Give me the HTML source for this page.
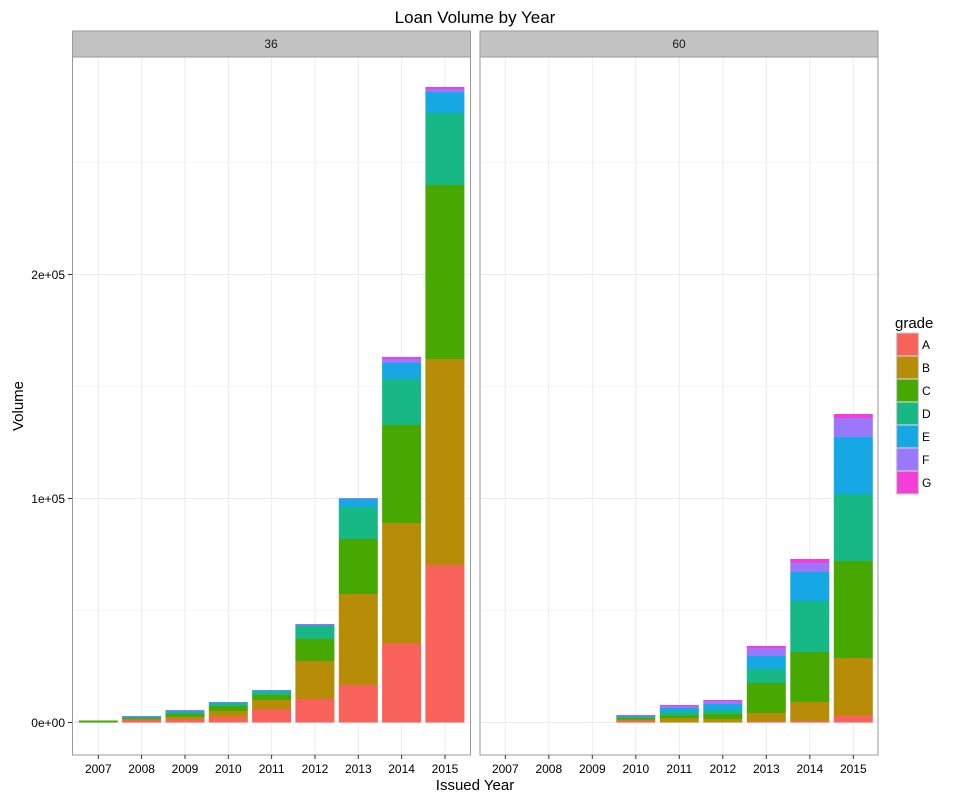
<!DOCTYPE html>
<html><head><meta charset="utf-8"><style>body{margin:0;background:#fff}svg{display:block;font-family:"Liberation Sans",Arial,sans-serif}</style></head><body>
<svg width="962" height="800" viewBox="0 0 962 800" xmlns="http://www.w3.org/2000/svg">
<rect width="962" height="800" fill="#fff"/>
<text x="475" y="23" font-size="17" text-anchor="middle" fill="#000">Loan Volume by Year</text>
<!-- strips -->
<rect x="72.5" y="31" width="398" height="26" fill="#c2c2c2" stroke="#999" stroke-width="1"/>
<rect x="480" y="31" width="398" height="26" fill="#c2c2c2" stroke="#999" stroke-width="1"/>
<text x="271" y="48" font-size="12" text-anchor="middle" fill="#1a1a1a">36</text>
<text x="679" y="48" font-size="12" text-anchor="middle" fill="#1a1a1a">60</text>
<g id="grid1" stroke-width="1">
<g stroke="#f6f6f6"><line x1="72.5" x2="470.5" y1="610.5" y2="610.5"/><line x1="72.5" x2="470.5" y1="386.5" y2="386.5"/><line x1="72.5" x2="470.5" y1="162.5" y2="162.5"/>
<line x1="480" x2="878" y1="610.5" y2="610.5"/><line x1="480" x2="878" y1="386.5" y2="386.5"/><line x1="480" x2="878" y1="162.5" y2="162.5"/></g>
<g stroke="#ebebeb"><line x1="72.5" x2="470.5" y1="722.5" y2="722.5"/><line x1="72.5" x2="470.5" y1="498.5" y2="498.5"/><line x1="72.5" x2="470.5" y1="274.5" y2="274.5"/>
<line x1="480" x2="878" y1="722.5" y2="722.5"/><line x1="480" x2="878" y1="498.5" y2="498.5"/><line x1="480" x2="878" y1="274.5" y2="274.5"/>
<line x1="98.3" x2="98.3" y1="57" y2="755"/><line x1="141.6" x2="141.6" y1="57" y2="755"/><line x1="185" x2="185" y1="57" y2="755"/><line x1="228.3" x2="228.3" y1="57" y2="755"/><line x1="271.6" x2="271.6" y1="57" y2="755"/><line x1="315" x2="315" y1="57" y2="755"/><line x1="358.3" x2="358.3" y1="57" y2="755"/><line x1="401.6" x2="401.6" y1="57" y2="755"/><line x1="445" x2="445" y1="57" y2="755"/>
<line x1="505.3" x2="505.3" y1="57" y2="755"/><line x1="548.8" x2="548.8" y1="57" y2="755"/><line x1="592.3" x2="592.3" y1="57" y2="755"/><line x1="635.8" x2="635.8" y1="57" y2="755"/><line x1="679.3" x2="679.3" y1="57" y2="755"/><line x1="722.8" x2="722.8" y1="57" y2="755"/><line x1="766.3" x2="766.3" y1="57" y2="755"/><line x1="809.8" x2="809.8" y1="57" y2="755"/><line x1="853.3" x2="853.3" y1="57" y2="755"/></g>
</g>
<!-- panel 1 bars -->
<g>
<rect x="78.8" y="720.5" width="39" height="2" fill="#46A800"/>
<!-- 2008 -->
<rect x="122.1" y="720" width="39" height="2.5" fill="#F8625B"/><rect x="122.1" y="719" width="39" height="1" fill="#B78C06"/><rect x="122.1" y="718" width="39" height="1" fill="#46A800"/><rect x="122.1" y="717.5" width="39" height="0.5" fill="#17B886"/><rect x="122.1" y="716.5" width="39" height="1" fill="#15A8E4"/><rect x="122.1" y="716" width="39" height="0.5" fill="#9B78FB"/>
<!-- 2009 -->
<rect x="165.5" y="719" width="39" height="3.5" fill="#F8625B"/><rect x="165.5" y="717" width="39" height="2" fill="#B78C06"/><rect x="165.5" y="714" width="39" height="3" fill="#46A800"/><rect x="165.5" y="712" width="39" height="2" fill="#17B886"/><rect x="165.5" y="711" width="39" height="1" fill="#15A8E4"/><rect x="165.5" y="710" width="39" height="1" fill="#9B78FB"/>
<!-- 2010 -->
<rect x="208.8" y="717" width="39" height="5.5" fill="#F8625B"/><rect x="208.8" y="711" width="39" height="6" fill="#B78C06"/><rect x="208.8" y="706" width="39" height="5" fill="#46A800"/><rect x="208.8" y="703.5" width="39" height="2.5" fill="#17B886"/><rect x="208.8" y="702.5" width="39" height="1" fill="#15A8E4"/><rect x="208.8" y="702" width="39" height="0.5" fill="#9B78FB"/>
<!-- 2011 -->
<rect x="252.1" y="709.5" width="39" height="13" fill="#F8625B"/><rect x="252.1" y="700" width="39" height="9.5" fill="#B78C06"/><rect x="252.1" y="695" width="39" height="5" fill="#46A800"/><rect x="252.1" y="691.5" width="39" height="3.5" fill="#17B886"/><rect x="252.1" y="690.5" width="39" height="1" fill="#15A8E4"/><rect x="252.1" y="690" width="39" height="0.5" fill="#9B78FB"/>
<!-- 2012 -->
<rect x="295.4" y="699" width="39" height="23.5" fill="#F8625B"/><rect x="295.4" y="661" width="39" height="38" fill="#B78C06"/><rect x="295.4" y="639" width="39" height="22" fill="#46A800"/><rect x="295.4" y="626" width="39" height="13" fill="#17B886"/><rect x="295.4" y="625" width="39" height="1" fill="#15A8E4"/><rect x="295.4" y="624.5" width="39" height="0.5" fill="#9B78FB"/><rect x="295.4" y="624" width="39" height="0.5" fill="#F33ED8"/>
<!-- 2013 -->
<rect x="338.8" y="685" width="39" height="37.5" fill="#F8625B"/><rect x="338.8" y="594" width="39" height="91" fill="#B78C06"/><rect x="338.8" y="539" width="39" height="55" fill="#46A800"/><rect x="338.8" y="507" width="39" height="32" fill="#17B886"/><rect x="338.8" y="499" width="39" height="8" fill="#15A8E4"/><rect x="338.8" y="498" width="39" height="1" fill="#9B78FB"/>
<!-- 2014 -->
<rect x="382.1" y="643.5" width="39" height="79" fill="#F8625B"/><rect x="382.1" y="523" width="39" height="120.5" fill="#B78C06"/><rect x="382.1" y="425" width="39" height="98" fill="#46A800"/><rect x="382.1" y="379" width="39" height="46" fill="#17B886"/><rect x="382.1" y="363" width="39" height="16" fill="#15A8E4"/><rect x="382.1" y="359" width="39" height="4" fill="#9B78FB"/><rect x="382.1" y="357" width="39" height="2" fill="#F33ED8"/>
<!-- 2015 -->
<rect x="425.4" y="565" width="39" height="157.5" fill="#F8625B"/><rect x="425.4" y="359" width="39" height="206" fill="#B78C06"/><rect x="425.4" y="185" width="39" height="174" fill="#46A800"/><rect x="425.4" y="113" width="39" height="72" fill="#17B886"/><rect x="425.4" y="92" width="39" height="21" fill="#15A8E4"/><rect x="425.4" y="89" width="39" height="3" fill="#9B78FB"/><rect x="425.4" y="87" width="39" height="2" fill="#F33ED8"/>
</g>
<!-- panel 2 bars -->
<g>
<rect x="616.3" y="720.5" width="39" height="2" fill="#F8625B"/><rect x="616.3" y="719.5" width="39" height="1" fill="#B78C06"/><rect x="616.3" y="718" width="39" height="1.5" fill="#46A800"/><rect x="616.3" y="717" width="39" height="1" fill="#17B886"/><rect x="616.3" y="716" width="39" height="1" fill="#15A8E4"/><rect x="616.3" y="715.5" width="39" height="0.5" fill="#9B78FB"/><rect x="616.3" y="715" width="39" height="0.5" fill="#F33ED8"/>
<rect x="659.8" y="718" width="39" height="4.5" fill="#B78C06"/><rect x="659.8" y="715.5" width="39" height="2.5" fill="#46A800"/><rect x="659.8" y="711.5" width="39" height="4" fill="#17B886"/><rect x="659.8" y="708" width="39" height="3.5" fill="#15A8E4"/><rect x="659.8" y="706" width="39" height="2" fill="#9B78FB"/><rect x="659.8" y="705" width="39" height="1" fill="#F33ED8"/>
<rect x="703.3" y="719" width="39" height="3.5" fill="#B78C06"/><rect x="703.3" y="714" width="39" height="5" fill="#46A800"/><rect x="703.3" y="709.5" width="39" height="4.5" fill="#17B886"/><rect x="703.3" y="704" width="39" height="5.5" fill="#15A8E4"/><rect x="703.3" y="701" width="39" height="3" fill="#9B78FB"/><rect x="703.3" y="700" width="39" height="1" fill="#F33ED8"/>
<rect x="746.8" y="721.5" width="39" height="1" fill="#F8625B"/><rect x="746.8" y="713" width="39" height="8.5" fill="#B78C06"/><rect x="746.8" y="683" width="39" height="30" fill="#46A800"/><rect x="746.8" y="669" width="39" height="14" fill="#17B886"/><rect x="746.8" y="656" width="39" height="13" fill="#15A8E4"/><rect x="746.8" y="648" width="39" height="8" fill="#9B78FB"/><rect x="746.8" y="646" width="39" height="2" fill="#F33ED8"/>
<rect x="790.3" y="721" width="39" height="1.5" fill="#F8625B"/><rect x="790.3" y="702" width="39" height="19" fill="#B78C06"/><rect x="790.3" y="652" width="39" height="50" fill="#46A800"/><rect x="790.3" y="601" width="39" height="51" fill="#17B886"/><rect x="790.3" y="572" width="39" height="29" fill="#15A8E4"/><rect x="790.3" y="563" width="39" height="9" fill="#9B78FB"/><rect x="790.3" y="559" width="39" height="4" fill="#F33ED8"/>
<rect x="833.8" y="715.5" width="39" height="7" fill="#F8625B"/><rect x="833.8" y="658" width="39" height="57.5" fill="#B78C06"/><rect x="833.8" y="561" width="39" height="97" fill="#46A800"/><rect x="833.8" y="494" width="39" height="67" fill="#17B886"/><rect x="833.8" y="437" width="39" height="57" fill="#15A8E4"/><rect x="833.8" y="418" width="39" height="19" fill="#9B78FB"/><rect x="833.8" y="414" width="39" height="4" fill="#F33ED8"/>
</g>
<!-- panel borders -->
<rect x="72.5" y="57" width="398" height="698" fill="none" stroke="#999" stroke-width="1"/>
<rect x="480" y="57" width="398" height="698" fill="none" stroke="#999" stroke-width="1"/>
<!-- y axis -->
<g stroke="#333" stroke-width="1"><line x1="68" x2="72" y1="722.5" y2="722.5"/><line x1="68" x2="72" y1="498.5" y2="498.5"/><line x1="68" x2="72" y1="274.5" y2="274.5"/></g>
<g font-size="12" text-anchor="end" fill="#000"><text x="65" y="727">0e+00</text><text x="65" y="503">1e+05</text><text x="65" y="279">2e+05</text></g>
<text transform="translate(23,406) rotate(-90)" font-size="15" text-anchor="middle" fill="#000">Volume</text>
<!-- x ticks -->
<g stroke="#333" stroke-width="1">
<line x1="98.3" x2="98.3" y1="755" y2="759"/><line x1="141.6" x2="141.6" y1="755" y2="759"/><line x1="185" x2="185" y1="755" y2="759"/><line x1="228.3" x2="228.3" y1="755" y2="759"/><line x1="271.6" x2="271.6" y1="755" y2="759"/><line x1="315" x2="315" y1="755" y2="759"/><line x1="358.3" x2="358.3" y1="755" y2="759"/><line x1="401.6" x2="401.6" y1="755" y2="759"/><line x1="445" x2="445" y1="755" y2="759"/>
<line x1="505.3" x2="505.3" y1="755" y2="759"/><line x1="548.8" x2="548.8" y1="755" y2="759"/><line x1="592.3" x2="592.3" y1="755" y2="759"/><line x1="635.8" x2="635.8" y1="755" y2="759"/><line x1="679.3" x2="679.3" y1="755" y2="759"/><line x1="722.8" x2="722.8" y1="755" y2="759"/><line x1="766.3" x2="766.3" y1="755" y2="759"/><line x1="809.8" x2="809.8" y1="755" y2="759"/><line x1="853.3" x2="853.3" y1="755" y2="759"/>
</g>
<g font-size="12" text-anchor="middle" fill="#000">
<text x="98.3" y="773">2007</text><text x="141.6" y="773">2008</text><text x="185" y="773">2009</text><text x="228.3" y="773">2010</text><text x="271.6" y="773">2011</text><text x="315" y="773">2012</text><text x="358.3" y="773">2013</text><text x="401.6" y="773">2014</text><text x="445" y="773">2015</text>
<text x="505.3" y="773">2007</text><text x="548.8" y="773">2008</text><text x="592.3" y="773">2009</text><text x="635.8" y="773">2010</text><text x="679.3" y="773">2011</text><text x="722.8" y="773">2012</text><text x="766.3" y="773">2013</text><text x="809.8" y="773">2014</text><text x="853.3" y="773">2015</text>
</g>
<text x="475" y="790" font-size="15" text-anchor="middle" fill="#000">Issued Year</text>
<!-- legend -->
<text x="895" y="328" font-size="15" fill="#000">grade</text>
<g stroke="#ccc" stroke-width="1.2">
<rect x="896.5" y="333" width="22" height="23" fill="#F8625B"/>
<rect x="896.5" y="356" width="22" height="23" fill="#B78C06"/>
<rect x="896.5" y="379" width="22" height="23" fill="#46A800"/>
<rect x="896.5" y="402" width="22" height="23" fill="#17B886"/>
<rect x="896.5" y="425" width="22" height="23" fill="#15A8E4"/>
<rect x="896.5" y="448" width="22" height="23" fill="#9B78FB"/>
<rect x="896.5" y="471" width="22" height="23" fill="#F33ED8"/>
</g>
<g font-size="12" fill="#000">
<text x="922" y="349">A</text><text x="922" y="372">B</text><text x="922" y="395">C</text><text x="922" y="418">D</text><text x="922" y="441">E</text><text x="922" y="464">F</text><text x="922" y="487">G</text>
</g>
</svg>
</body></html>
